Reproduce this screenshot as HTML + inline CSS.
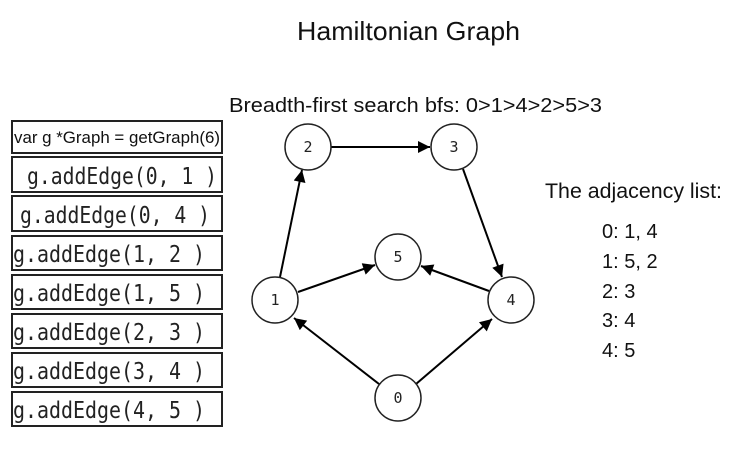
<!DOCTYPE html>
<html><head><meta charset="utf-8"><style>
body{margin:0;background:#fff;}
svg{display:block}
.c{font-family:"Liberation Sans",sans-serif;fill:#111}
.m{font-family:"DejaVu Sans Mono","Liberation Mono",monospace;fill:#222}
</style></head><body>
<svg width="752" height="452" viewBox="0 0 752 452" xmlns="http://www.w3.org/2000/svg">
<defs>
<marker id="b" viewBox="0 0 10 10" markerWidth="14" markerHeight="12" refX="10" refY="5" orient="auto" markerUnits="userSpaceOnUse"><path d="M0,0 L10,5 L0,10 z" fill="#000"/></marker></defs>
<text class="c" x="297" y="40" font-size="26" textLength="223" lengthAdjust="spacingAndGlyphs">Hamiltonian Graph</text>
<text class="c" x="229" y="112" font-size="20" textLength="373" lengthAdjust="spacingAndGlyphs">Breadth-first search  bfs: 0&gt;1&gt;4&gt;2&gt;5&gt;3</text>
<text class="c" x="545" y="198" font-size="21" textLength="177" lengthAdjust="spacingAndGlyphs">The adjacency list:</text>
<g class="c" font-size="20">
<text x="602" y="238">0: 1, 4</text>
<text x="602" y="268">1: 5, 2</text>
<text x="602" y="298">2: 3</text>
<text x="602" y="327">3: 4</text>
<text x="602" y="357">4: 5</text>
</g>
<g fill="none" stroke="#222" stroke-width="2">
<rect x="12" y="121" width="210" height="32"/>
<rect x="12" y="157" width="210" height="35"/>
<rect x="12" y="196" width="210" height="35"/>
<rect x="12" y="236" width="210" height="34"/>
<rect x="12" y="275" width="210" height="34"/>
<rect x="12" y="314" width="210" height="34"/>
<rect x="12" y="353" width="210" height="34"/>
<rect x="12" y="392" width="210" height="34"/>
</g>
<text class="c" x="14" y="143" font-size="17" textLength="206" lengthAdjust="spacingAndGlyphs">var g *Graph = getGraph(6)</text>
<g class="m" font-size="23">
<text x="27" y="184" textLength="190" lengthAdjust="spacingAndGlyphs">g.addEdge(0, 1 )</text>
<text x="20" y="223" textLength="190" lengthAdjust="spacingAndGlyphs">g.addEdge(0, 4 )</text>
<text x="13" y="262" textLength="192" lengthAdjust="spacingAndGlyphs">g.addEdge(1, 2 )</text>
<text x="13" y="301" textLength="192" lengthAdjust="spacingAndGlyphs">g.addEdge(1, 5 )</text>
<text x="13" y="340" textLength="192" lengthAdjust="spacingAndGlyphs">g.addEdge(2, 3 )</text>
<text x="13" y="379" textLength="192" lengthAdjust="spacingAndGlyphs">g.addEdge(3, 4 )</text>
<text x="13" y="418" textLength="192" lengthAdjust="spacingAndGlyphs">g.addEdge(4, 5 )</text>
</g>
<g stroke="#000" stroke-width="2" fill="none">
<line x1="331" y1="147" x2="430" y2="147" marker-end="url(#b)"/>
<line x1="463" y1="169" x2="502" y2="277" marker-end="url(#b)"/>
<line x1="280" y1="277" x2="302" y2="170" marker-end="url(#b)"/>
<line x1="298" y1="292" x2="375" y2="265" marker-end="url(#b)"/>
<line x1="489" y1="291" x2="421" y2="266" marker-end="url(#b)"/>
<line x1="379" y1="384" x2="294" y2="318" marker-end="url(#b)"/>
<line x1="416" y1="384" x2="492" y2="319" marker-end="url(#b)"/>
</g>
<g fill="#fff" stroke="#222" stroke-width="1.5">
<circle cx="308" cy="147" r="23"/><circle cx="454" cy="147" r="23"/>
<circle cx="398" cy="257" r="23"/><circle cx="275" cy="300" r="23"/>
<circle cx="511" cy="300" r="23"/><circle cx="398" cy="398" r="23"/>
</g>
<g class="m" font-size="15" text-anchor="middle" fill="#333">
<text x="308" y="152">2</text><text x="454" y="152">3</text>
<text x="398" y="262">5</text><text x="275" y="305">1</text>
<text x="511" y="305">4</text><text x="398" y="403">0</text>
</g>
</svg>
</body></html>
